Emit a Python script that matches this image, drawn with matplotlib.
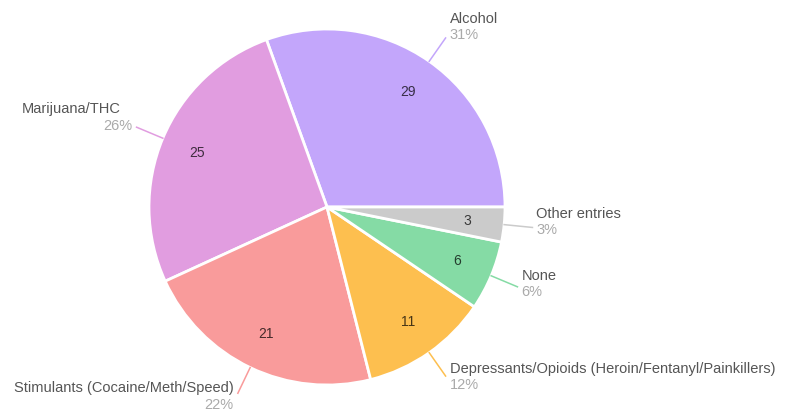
import matplotlib
matplotlib.use('Agg')
import matplotlib.pyplot as plt
import numpy as np
from matplotlib.colors import to_rgb

# ============================================================
# Data
# ============================================================
categories = ['Alcohol', 'Marijuana/THC', 'Stimulants (Cocaine/Meth/Speed)',
              'Depressants/Opioids (Heroin/Fentanyl/Painkillers)', 'None',
              'Other entries']
counts = [29, 25, 21, 11, 6, 3]
colors = ['#c3a6fb', '#e19de0', '#f99b9b', '#fdbf4f', '#85dba5', '#cbcbcb']

# label nudges (px): name dy, pct dy, name dx
nudges = [(-19, -3), (-18, -1), (-5, 12), (-7, 9), (-11, 5), (-13, 3)]
name_dx = [0, -12, 0, 0, 0, 0]

W, H = 785, 411
CX, CY, R = 327, H - 207, 178

plt.rcParams['font.family'] = ['Liberation Sans', 'DejaVu Sans']

fig = plt.figure(figsize=(W / 100, H / 100), dpi=100)
ax = fig.add_axes([0, 0, 1, 1])

def darken(c, f=0.72):
    r, g, b = to_rgb(c)
    return (r * (1 - f), g * (1 - f), b * (1 - f))

wedges, _, autotexts = ax.pie(
    counts, colors=colors, startangle=0, counterclock=True,
    center=(CX, CY), radius=R, frame=True,
    autopct=lambda p: f'{p * sum(counts) / 100:.0f}', pctdistance=0.79,
    wedgeprops=dict(edgecolor='white', linewidth=2),
    textprops=dict(fontsize=10))
ax.set_xlim(0, W)
ax.set_ylim(0, H)
ax.set_aspect('equal')
ax.axis('off')

for t, c in zip(autotexts, colors):
    t.set_color(darken(c))

total = sum(counts)
for w, cat, n, c, (dn, dp), ndx in zip(wedges, categories, counts, colors,
                                        nudges, name_dx):
    mid = np.deg2rad((w.theta1 + w.theta2) / 2)
    x0, y0 = CX + R * np.cos(mid), CY + R * np.sin(mid)
    x1, y1 = CX + 1.16 * R * np.cos(mid), CY + 1.16 * R * np.sin(mid)
    ax.plot([x0, x1], [y0, y1], color=c, lw=1.1)
    right = np.cos(mid) >= 0
    ha = 'left' if right else 'right'
    tx = x1 + (4 if right else -4)
    ax.text(tx + ndx, y1 - dn, cat, ha=ha, va='center', fontsize=10.5,
            color='#555555')
    ax.text(tx, y1 - dp, f'{n / total * 100:.0f}%', ha=ha, va='center',
            fontsize=10.5, color='#aaaaaa')

fig.savefig('out.png', dpi=100)
